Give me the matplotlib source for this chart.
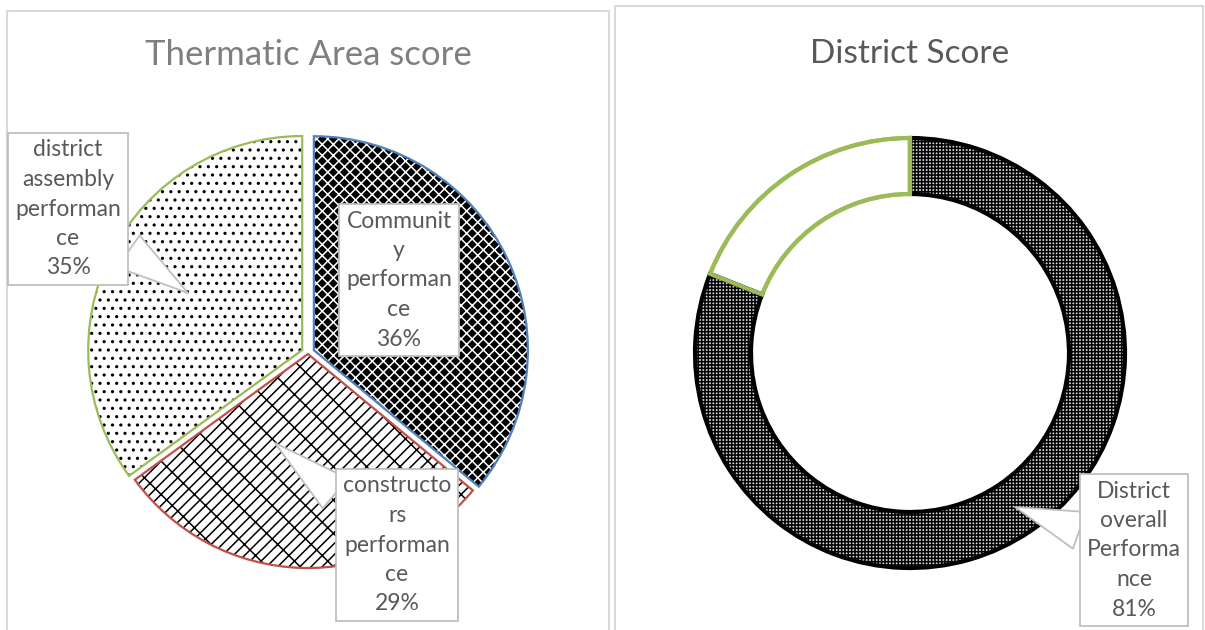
import matplotlib.pyplot as plt
from matplotlib.patches import Rectangle

# Valores
area_labels = ["Communit\ny\nperforman\nce", "constructo\nrs\nperforman\nce",
               "district\nassembly\nperforman\nce"]
area_values = [36, 29, 35]
area_hatch = ["xxx", "///\\", ".."]
area_face = ["black", "white", "white"]
area_hatch_color = ["white", "black", "black"]
area_edge = ["#4F81BD", "#C0504D", "#9BBB59"]

district_labels = ["District\noverall\nPerforma\nnce", ""]
district_values = [81, 19]

plt.rcParams['font.family'] = ['Lato', 'DejaVu Sans']
plt.rcParams['hatch.linewidth'] = 1.1

fig = plt.figure(figsize=(12.05, 6.3), dpi=100)
ax = fig.add_axes([0, 0, 1, 1])

# Molduras dos dois gráficos
ax.add_patch(Rectangle((7, -5), 602, 624, fill=False, ec="#D9D9D9", lw=1.5))
ax.add_patch(Rectangle((615, -5), 588, 629, fill=False, ec="#D9D9D9", lw=1.5))

# Pizza - preenchimento com padrões (explode em pixels)
explode = [6.5, 1, 6.5]
fundo, _ = ax.pie(area_values, center=(308, 277), radius=214, startangle=90,
                  counterclock=False, explode=explode, frame=True)
for w, fc, hc, h in zip(fundo, area_face, area_hatch_color, area_hatch):
    w.set_facecolor(fc)
    w.set_edgecolor(hc)
    w.set_linewidth(0)
    w.set_hatch(h)

# Pizza - contornos
contorno, _ = ax.pie(area_values, center=(308, 277), radius=214, startangle=90,
                     counterclock=False, explode=explode, frame=True,
                     wedgeprops=dict(fill=False, lw=1.6))
for w, ec in zip(contorno, area_edge):
    w.set_edgecolor(ec)

# Rosca
anel, _ = ax.pie(district_values, center=(910, 277), radius=215, startangle=90,
                 counterclock=False, frame=True,
                 wedgeprops=dict(width=56, lw=3))
anel[0].set_facecolor("#d8d8d8")
anel[0].set_edgecolor("black")
anel[0].set_hatch("+++++")
anel[0].set_linewidth(0)
anel[1].set_facecolor("white")
anel[1].set_edgecolor("#9BBB59")

borda, _ = ax.pie(district_values, center=(910, 277), radius=215, startangle=90,
                  counterclock=False, frame=True,
                  wedgeprops=dict(width=56, lw=3, fill=False))
borda[0].set_edgecolor("black")
borda[1].set_edgecolor("#9BBB59")

# Rótulos (caixas de texto)
caixa = dict(boxstyle="square,pad=0.3", fc="white", ec="#BFBFBF", lw=1.3)
seta = dict(arrowstyle="wedge,tail_width=1.7", fc="white", ec="#BFBFBF",
            lw=1.3, shrinkA=0, shrinkB=0)
txt = dict(ha="center", va="center", fontsize=16.5, color="#595959",
           linespacing=1.5, zorder=5)

ax.annotate(f"{area_labels[0]}\n{area_values[0]}%", xy=(399, 350), bbox=caixa, **txt)
ax.annotate(f"{area_labels[1]}\n{area_values[1]}%", xy=(275, 187), xytext=(397, 85),
            bbox=caixa, arrowprops=seta, **txt)
ax.annotate(f"{area_labels[2]}\n{area_values[2]}%", xy=(188, 337), xytext=(68, 421),
            bbox=caixa, arrowprops=seta, **txt)
ax.annotate(f"{district_labels[0]}\n{district_values[0]}%", xy=(1015, 123),
            xytext=(1134, 80), bbox=caixa, arrowprops=seta, **txt)

# Títulos
ax.text(308, 565, "Thermatic Area score", ha="center", va="baseline",
        fontsize=25, color="#7F7F7F")
ax.text(910, 567, "District Score", ha="center", va="baseline",
        fontsize=24, color="#595959")

ax.set_xlim(0, 1205)
ax.set_ylim(0, 630)
ax.axis('off')

fig.savefig("out.png", dpi=100)
